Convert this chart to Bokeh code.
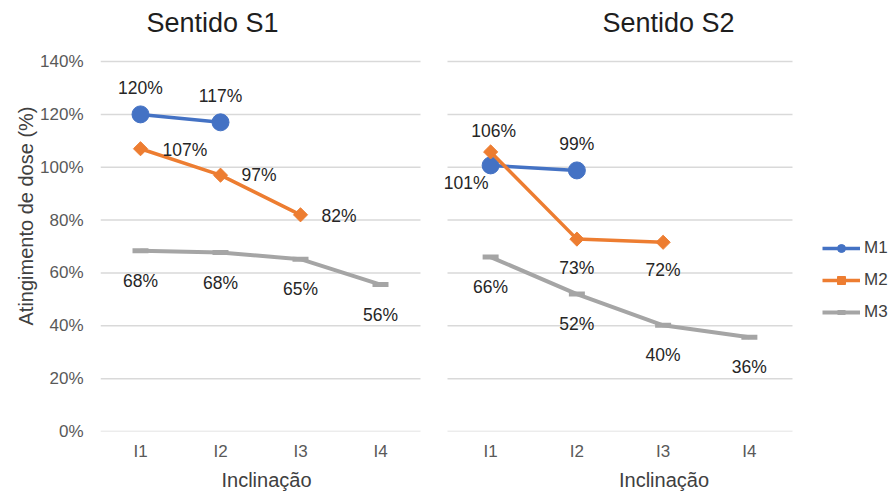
from bokeh.plotting import figure
from bokeh.models import (ColumnDataSource, Range1d, FixedTicker, NumeralTickFormatter,
                          Legend, LegendItem, Label)
from bokeh.core.properties import value
from bokeh.layouts import row
from bokeh.embed import file_html
from bokeh.resources import INLINE
import numpy as np

# ---------------- data ----------------
categories = ["I1", "I2", "I3", "I4"]
series_names = ["M1", "M2", "M3"]
titles = ["Sentido S1", "Sentido S2"]

s1_m1 = [1.20, 1.17]
s1_m2 = [1.07, 0.97, 0.82]
s1_m3 = [0.684, 0.677, 0.652, 0.556]

s2_m1 = [1.007, 0.988]
s2_m2 = [1.058, 0.728, 0.716]
s2_m3 = [0.66, 0.52, 0.402, 0.357]

y_ticks = [0, 0.2, 0.4, 0.6, 0.8, 1.0, 1.2, 1.4]

# ---------------- label placement (screen px) ----------------
s1_label_pos = {
    "M1": [(0, -26, "center"), (0, -26, "center")],
    "M2": [(22, 1, "left"), (21, 0, "left"), (21, 1, "left")],
    "M3": [(0, 30, "center")] * 4,
}
s2_label_pos = {
    "M1": [(-2, 18, "right"), (0, -26, "center")],
    "M2": [(3, -21, "center"), (0, 29, "center"), (0, 28, "center")],
    "M3": [(0, 30, "center")] * 4,
}

FONT = "Liberation Sans"
COLORS = {"M1": "#4472C4", "M2": "#ED7D31", "M3": "#A5A5A5"}
H = 493
Y_TOP = 1.631          # range above 140% holds the panel title
N = len(categories)
cat_pos = [i + 0.5 for i in range(N)]


def make_panel(title, data, label_pos, width, x_range, border_left, title_xy, show_y):
    p = figure(width=width, height=H, x_range=x_range, y_range=Range1d(0, Y_TOP),
               output_backend="svg", toolbar_location=None,
               min_border_left=border_left, min_border_right=0,
               min_border_top=0, min_border_bottom=0)
    p.outline_line_color = None
    p.xgrid.grid_line_color = None
    p.ygrid.grid_line_color = None

    # horizontal gridlines across the category band only
    p.segment(x0=0, x1=N, y0=y_ticks, y1=y_ticks, line_color="#d9d9d9", line_width=1.5)

    p.yaxis.ticker = FixedTicker(ticks=y_ticks)
    p.yaxis.formatter = NumeralTickFormatter(format="0%")
    p.yaxis.axis_line_color = None
    p.yaxis.major_tick_line_color = None
    p.yaxis.minor_tick_line_color = None
    p.yaxis.major_tick_out = 0
    p.yaxis.major_tick_in = 0
    p.yaxis.major_label_text_font = FONT
    p.yaxis.major_label_text_font_size = "17px"
    p.yaxis.major_label_text_color = "#595959"
    p.yaxis.major_label_standoff = 17
    p.yaxis.axis_label_text_font = FONT
    p.yaxis.axis_label_text_font_size = "20px"
    p.yaxis.axis_label_text_font_style = "normal"
    p.yaxis.axis_label_text_color = "#404040"
    p.yaxis.axis_label_standoff = 0
    if show_y:
        p.yaxis.axis_label = "Atingimento de dose (%)"
    else:
        p.yaxis.visible = False

    p.xaxis.ticker = FixedTicker(ticks=cat_pos)
    p.xaxis.major_label_overrides = {pos: c for pos, c in zip(cat_pos, categories)}
    p.xaxis.axis_line_color = None
    p.xaxis.major_tick_line_color = None
    p.xaxis.minor_tick_line_color = None
    p.xaxis.major_tick_out = 0
    p.xaxis.major_tick_in = 0
    p.xaxis.major_label_text_font = FONT
    p.xaxis.major_label_text_font_size = "17px"
    p.xaxis.major_label_text_color = "#595959"
    p.xaxis.major_label_standoff = 10
    p.xaxis.axis_label = "Inclinação"
    p.xaxis.axis_label_text_font = FONT
    p.xaxis.axis_label_text_font_size = "20px"
    p.xaxis.axis_label_text_font_style = "normal"
    p.xaxis.axis_label_text_color = "#404040"
    p.xaxis.axis_label_standoff = 5

    p.add_layout(Label(x=title_xy[0], y=title_xy[1], x_units="screen", y_units="screen",
                       text=title, text_font=FONT, text_font_size="27px",
                       text_color="#1e1e1e", text_align="center", text_baseline="middle"))

    renderers = {}
    for name in series_names:
        vals = data[name]
        xs = cat_pos[:len(vals)]
        pos = label_pos[name]
        src = ColumnDataSource(dict(
            x=xs, y=vals,
            label=[f"{round(v * 100)}%" for v in vals],
            xo=[q[0] for q in pos], yo=[q[1] for q in pos], al=[q[2] for q in pos],
        ))
        col = COLORS[name]
        rs = []
        if name == "M1":
            rs.append(p.line("x", "y", source=src, line_color=col, line_width=3.5))
            rs.append(p.scatter("x", "y", source=src, marker="circle", size=17,
                                fill_color=col, line_color=col))
        elif name == "M2":
            rs.append(p.line("x", "y", source=src, line_color=col, line_width=3.5))
            rs.append(p.scatter("x", "y", source=src, marker="square", angle=np.pi / 4,
                                size=10, fill_color=col, line_color=col))
        else:
            rs.append(p.line("x", "y", source=src, line_color=col, line_width=4))
            rs.append(p.scatter("x", "y", source=src, marker="dash", size=16,
                                line_color=col, line_width=5))
        renderers[name] = rs
        p.text("x", "y", text="label", source=src, x_offset="xo", y_offset="yo",
               text_align="al", text_baseline="middle", text_font=value(FONT),
               text_font_size="17.5px", text_color="#262626")
    return p, renderers


# left panel: frame 100..432 px, 80 px per category
p1, r1 = make_panel(titles[0], {"M1": s1_m1, "M2": s1_m2, "M3": s1_m3}, s1_label_pos,
                    432, Range1d(0, 332 / 80), 100, (112, 409), True)
# right panel: frame 432..895 px, first gridline 15 px in, 86.25 px per category
p2, r2 = make_panel(titles[1], {"M1": s2_m1, "M2": s2_m2, "M3": s2_m3}, s2_label_pos,
                    463, Range1d(-15 / 86.25, 448 / 86.25), 0, (236, 409), False)

legend = Legend(items=[LegendItem(label=n, renderers=r2[n]) for n in series_names],
                location=(390, 109), orientation="vertical")
legend.padding = 0
legend.margin = 0
legend.spacing = 12
legend.glyph_width = 38
legend.glyph_height = 20
legend.label_standoff = 4
legend.label_text_font = FONT
legend.label_text_font_size = "17px"
legend.label_text_color = "#404040"
legend.border_line_color = None
legend.background_fill_alpha = 0
p2.add_layout(legend, "center")

layout = row(p1, p2)
open("out.html", "w").write(file_html(layout, INLINE))
